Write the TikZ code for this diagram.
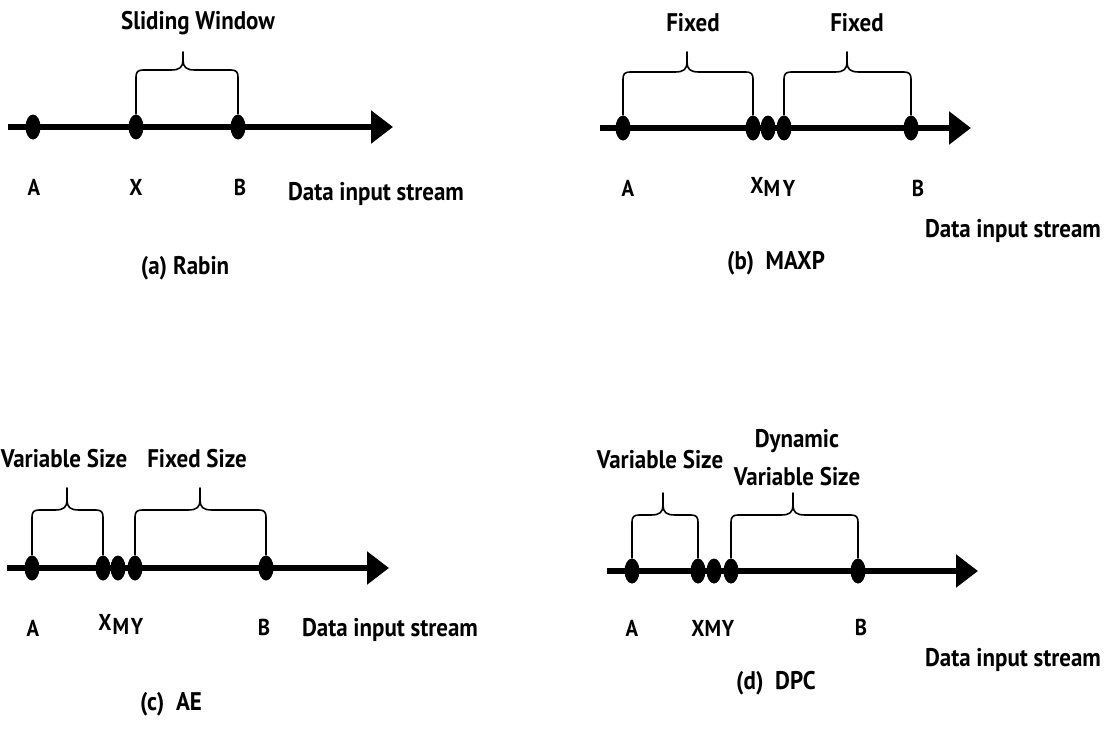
\documentclass[tikz,border=0pt]{standalone}
\usepackage{fontspec}
\setmainfont{PT Sans}[FakeStretch=0.9]
\usetikzlibrary{shapes.geometric,arrows.meta}
\tikzset{
  dot/.style={ellipse,fill=black,draw=none,minimum width=15pt,minimum height=25pt,inner sep=0pt},
  stream/.style={line width=5.5pt,-{Triangle[length=22pt,width=32pt]}},
  brc/.style={line width=1.6pt,line join=round},
  lbl/.style={font=\fontsize{25.5}{29}\selectfont\bfseries,inner sep=0pt,anchor=center},
  pt/.style={font=\fontsize{23}{25}\selectfont\bfseries,inner sep=0pt,anchor=center},
}
% #1 start node, #2 end node, #3 x1, #4 x2, #5 ytop, #6 xpeak, #7 ypeak
\newcommand\mybrace[7]{%
  \draw[brc] (#1.north) -- (#3,#5+7) .. controls (#3,#5+2) and (#3+2,#5) .. (#3+7,#5)
    -- (#6-12,#5) .. controls (#6-3,#5) and (#6,#5-3) .. (#6,#5-10) -- (#6,#7)
    -- (#6,#5-10) .. controls (#6,#5-3) and (#6+3,#5) .. (#6+12,#5)
    -- (#4-7,#5) .. controls (#4-2,#5) and (#4,#5+2) .. (#4,#5+7) -- (#2.north);}
\begin{document}
\begin{tikzpicture}[x=1pt,y=-1pt]
\useasboundingbox[fill=white] (0,0) rectangle (1120,731);
% ---------- (a) Rabin
\coordinate (a0) at (8,127); \coordinate (a1) at (393,127);
\draw[stream] (a0) -- (a1);
\node[dot] (aA) at (33,127) {};
\node[dot] (aX) at (136,127) {};
\node[dot] (aB) at (238,127) {};
\mybrace{aX}{aB}{136}{238}{70}{183}{52}
\node[lbl] (at) at (198,23) {Sliding Window};
\node[pt] (aLA) at (34,187) {A};
\node[pt] (aLX) at (136,187) {X};
\node[pt] (aLB) at (240,187) {B};
\node[lbl] (ad) at (376,194) {Data input stream};
\node[lbl] (ac) at (185,268) {(a) Rabin};
% ---------- (b) MAXP
\coordinate (b0) at (600,128); \coordinate (b1) at (971,128);
\draw[stream] (b0) -- (b1);
\node[dot] (bA) at (623,128) {};
\node[dot] (bX) at (753,128) {};
\node[dot] (bM) at (768,128) {};
\node[dot] (bY) at (784,128) {};
\node[dot] (bB) at (911,128) {};
\mybrace{bA}{bX}{623}{753}{72}{687}{52}
\mybrace{bY}{bB}{784}{911}{72}{847}{52}
\node[lbl] (bt1) at (693,23) {Fixed};
\node[lbl] (bt2) at (857,23) {Fixed};
\node[pt] (bLA) at (628,188) {A};
\node[pt] (bLX) at (757,185) {X};
\node[pt] (bLM) at (772,188) {M};
\node[pt] (bLY) at (789,188) {Y};
\node[pt] (bLB) at (918,188) {B};
\node[lbl] (bd) at (1013,231) {Data input stream};
\node[lbl] (bc) at (776,263) {(b)\ \ MAXP};
% ---------- (c) AE
\coordinate (c0) at (7,568); \coordinate (c1) at (389,568);
\draw[stream] (c0) -- (c1);
\node[dot] (cA) at (32,568) {};
\node[dot] (cX) at (103,568) {};
\node[dot] (cM) at (118,568) {};
\node[dot] (cY) at (135,568) {};
\node[dot] (cB) at (266,568) {};
\mybrace{cA}{cX}{32}{103}{510}{67}{488}
\mybrace{cY}{cB}{135}{266}{510}{200}{488}
\node[lbl] (ct1) at (64,459) {Variable Size};
\node[lbl] (ct2) at (197,459) {Fixed Size};
\node[pt] (cLA) at (33,628) {A};
\node[pt] (cLX) at (105,622) {X};
\node[pt] (cLM) at (121,626) {M};
\node[pt] (cLY) at (137,626) {Y};
\node[pt] (cLB) at (264,627) {B};
\node[lbl] (cd) at (390,630) {Data input stream};
\node[lbl] (cc) at (171,704) {(c)\ \ AE};
% ---------- (d) DPC
\coordinate (d0) at (607,571); \coordinate (d1) at (978,571);
\draw[stream] (d0) -- (d1);
\node[dot] (dA) at (632,571) {};
\node[dot] (dX) at (698,571) {};
\node[dot] (dM) at (714,571) {};
\node[dot] (dY) at (731,571) {};
\node[dot] (dB) at (858,571) {};
\mybrace{dA}{dX}{632}{698}{515}{663}{493}
\mybrace{dY}{dB}{731}{858}{515}{793}{493}
\node[lbl] (dt1) at (660,460) {Variable Size};
\node[lbl] (dt2) at (797,441) {Dynamic};
\node[lbl] (dt3) at (797,477) {Variable Size};
\node[pt] (dLA) at (632,628) {A};
\node[pt] (dLX) at (698,628) {X};
\node[pt] (dLM) at (713,628) {M};
\node[pt] (dLY) at (728,628) {Y};
\node[pt] (dLB) at (861,627) {B};
\node[lbl] (dd) at (1013,660) {Data input stream};
\node[lbl] (dc) at (776,683) {(d)\ \ DPC};
\end{tikzpicture}
\end{document}
